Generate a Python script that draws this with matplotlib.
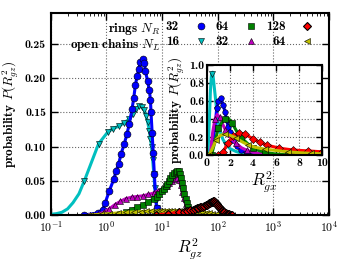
import matplotlib
matplotlib.use('Agg')
import numpy as np
import matplotlib.pyplot as plt
from matplotlib.ticker import FuncFormatter

# main panel: P(R_gz^2) vs R_gz^2
ring32_x = [0.40, 0.69, 0.85, 0.95, 1.12, 1.35, 1.48, 1.66, 1.82, 2.09, 2.34, 2.57, 2.88, 3.09, 3.31,
            3.55, 3.80, 4.07, 4.47, 4.79, 5.01, 5.50, 5.89, 6.17, 6.31, 6.61, 6.92, 7.24, 7.59, 7.94, 8.51]
ring32_y = [0.0, 0.003, 0.008, 0.018, 0.035, 0.052, 0.064, 0.075, 0.089, 0.104, 0.119, 0.133, 0.155, 0.171, 0.190,
            0.203, 0.213, 0.224, 0.228, 0.222, 0.210, 0.195, 0.182, 0.168, 0.150, 0.120, 0.090, 0.060, 0.030, 0.010, 0.0]

chain16_x = [0.08, 0.10, 0.126, 0.158, 0.20, 0.25, 0.32, 0.40, 0.72, 1.05, 1.29, 1.70, 2.09, 2.57, 2.95, 3.39,
             3.89, 4.37, 4.79, 5.13, 5.50, 5.89, 6.17, 6.46, 6.76, 7.08, 7.41, 7.76, 8.13, 8.71, 10.0]
chain16_y = [0.0, 0.001, 0.002, 0.004, 0.009, 0.018, 0.031, 0.050, 0.104, 0.121, 0.126, 0.130, 0.135, 0.140, 0.148, 0.155,
             0.159, 0.158, 0.153, 0.145, 0.136, 0.123, 0.111, 0.099, 0.080, 0.060, 0.040, 0.020, 0.010, 0.003, 0.0]

ring64_x = [1.78, 2.24, 2.82, 3.55, 4.47, 5.62, 7.08, 7.94, 8.9, 10.0, 10.7, 11.5, 12.3, 13.2, 14.1, 15.1, 16.2,
            17.4, 18.6, 20.0, 20.9, 21.9, 22.9, 24.0, 25.1, 26.3, 27.5, 28.8, 30.9, 33.1, 35.5, 39.8]
ring64_y = [0.001, 0.004, 0.008, 0.011, 0.015, 0.019, 0.024, 0.027, 0.031, 0.035, 0.038, 0.042, 0.046, 0.050, 0.054, 0.058, 0.061,
            0.063, 0.065, 0.064, 0.060, 0.054, 0.047, 0.039, 0.031, 0.024, 0.017, 0.012, 0.007, 0.003, 0.001, 0.0]

chain32_x = [0.50, 0.71, 0.89, 1.12, 1.41, 1.78, 2.24, 2.82, 3.55, 4.47, 5.62, 7.08, 8.3, 9.5, 10.7, 12.0, 13.5,
             15.1, 17.0, 18.6, 20.0, 21.4, 22.9, 24.5, 26.3, 28.2, 30.9, 34.7, 39.8]
chain32_y = [0.0, 0.001, 0.004, 0.009, 0.015, 0.020, 0.024, 0.026, 0.027, 0.028, 0.030, 0.032, 0.035, 0.037, 0.040, 0.043, 0.047,
             0.050, 0.053, 0.054, 0.051, 0.044, 0.034, 0.025, 0.016, 0.009, 0.004, 0.001, 0.0]

ring128_x = [7.9, 12.6, 20.0, 25.1, 28.2, 31.6, 35.5, 38.5, 41.7, 44.7, 47.9, 50.7, 53.7, 57.0, 60.3, 63.1, 66.1,
             69.2, 72.4, 75.0, 77.6, 80.4, 83.2, 86.1, 89.1, 92.3, 95.5, 98.7, 102, 106, 110, 113, 117, 121, 126,
             132, 138, 144, 151, 158, 166, 174, 182]
ring128_y = [0.0, 0.002, 0.004, 0.005, 0.006, 0.007, 0.008, 0.009, 0.010, 0.0105, 0.011, 0.0115, 0.012, 0.013, 0.014, 0.015, 0.016,
             0.017, 0.018, 0.0185, 0.019, 0.0195, 0.020, 0.0198, 0.019, 0.0175, 0.016, 0.0145, 0.013, 0.0115, 0.010, 0.0088, 0.0075, 0.0062, 0.005,
             0.004, 0.003, 0.0022, 0.0015, 0.001, 0.0005, 0.0002, 0.0]

chain64_x = [0.5, 0.79, 1.12, 1.58, 2.24, 3.16, 4.2, 5.2, 6.3, 7.6, 8.9, 10.0, 11.5, 13.2, 15.1, 17.4, 20.0, 22.9,
             26.3, 30.2, 34.7, 39.8, 45.7, 52.5, 60.3, 69.2, 79.4, 91.2, 112, 141]
chain64_y = [0.0, 0.001, 0.002, 0.003, 0.004, 0.0045, 0.005, 0.0055, 0.006, 0.006, 0.0065, 0.0065, 0.0065, 0.0065, 0.0065, 0.0065,
             0.006, 0.006, 0.0055, 0.0055, 0.005, 0.005, 0.0045, 0.004, 0.0035, 0.003, 0.002, 0.001, 0.0003, 0.0]

# inset: P(R_gx^2) vs R_gx^2
in_chain16_x = [0.0, 0.1, 0.2, 0.3, 0.4, 0.5, 0.6, 0.7, 0.85, 1.0, 1.2, 1.4, 1.7, 2.0, 2.5, 3.0, 3.5, 4.0, 5.0, 6.0]
in_chain16_y = [0.0, 0.05, 0.35, 0.7, 0.9, 0.92, 0.8, 0.68, 0.5, 0.35, 0.24, 0.17, 0.11, 0.07, 0.04, 0.02, 0.01, 0.005, 0.001, 0.0]
in_ring32_x = [0.3, 0.5, 0.7, 0.85, 1.0, 1.2, 1.4, 1.57, 1.71, 1.85, 2.0, 2.3, 2.6, 3.0, 3.5, 4.0, 5.0]
in_ring32_y = [0.0, 0.15, 0.30, 0.52, 0.60, 0.63, 0.56, 0.48, 0.39, 0.31, 0.26, 0.17, 0.10, 0.05, 0.02, 0.005, 0.0]
in_chain32_x = [0.3, 0.5, 0.7, 0.9, 1.1, 1.3, 1.6, 2.0, 2.5, 3.0, 3.5, 4.0, 5.0, 6.0, 7.0]
in_chain32_y = [0.0, 0.25, 0.40, 0.45, 0.42, 0.36, 0.28, 0.20, 0.13, 0.08, 0.05, 0.03, 0.01, 0.003, 0.0]
in_ring64_x = [0.4, 0.7, 1.0, 1.3, 1.6, 1.85, 2.2, 2.6, 3.0, 3.5, 4.0, 4.5, 5.0, 6.0, 7.0]
in_ring64_y = [0.0, 0.15, 0.30, 0.36, 0.40, 0.41, 0.35, 0.26, 0.19, 0.13, 0.08, 0.05, 0.03, 0.01, 0.0]
in_chain64_x = [0.2, 0.5, 0.8, 1.2, 1.6, 2.0, 2.5, 3.0, 3.6, 4.2, 5.0, 6.0, 7.0, 8.0, 9.0, 10.0]
in_chain64_y = [0.0, 0.08, 0.17, 0.22, 0.23, 0.22, 0.19, 0.15, 0.11, 0.085, 0.065, 0.05, 0.035, 0.025, 0.018, 0.013]
in_ring128_x = [1.0, 1.4, 1.8, 2.3, 2.8, 3.3, 4.0, 4.6, 5.2, 6.3, 7.5, 8.8, 10.0]
in_ring128_y = [0.0, 0.03, 0.13, 0.21, 0.245, 0.23, 0.18, 0.14, 0.11, 0.075, 0.055, 0.045, 0.035]

ring_sizes = ['32', '64', '128']
chain_sizes = ['16', '32', '64']

# computer-modern bold shipped with matplotlib
plt.rcParams['font.family'] = ['cmb10', 'DejaVu Serif']
plt.rcParams['mathtext.fontset'] = 'cm'
plt.rcParams['axes.unicode_minus'] = False

fig = plt.figure(figsize=(3.46, 2.60), dpi=100)
ax = fig.add_axes([0.147, 0.173, 0.804, 0.777])

ms = 5.0
lw = 2.2
style = dict(mec='k', mew=0.4, ms=ms, lw=lw)
h_c16, = ax.plot(chain16_x, chain16_y, '-v', color='c', markevery=(7, 1), **style)
h_r32, = ax.plot(ring32_x, ring32_y, '-o', color='b', **style)
h_c32, = ax.plot(chain32_x, chain32_y, '-^', color='m', **style)
h_r64, = ax.plot(ring64_x, ring64_y, '-s', color='g', **style)
h_c64, = ax.plot(chain64_x, chain64_y, '-<', color='y', **style)
h_r128, = ax.plot(ring128_x, ring128_y, '-D', color='r', mec='k', mew=0.8, ms=3.6, lw=lw)

ax.set_xscale('log')
ax.set_xlim(0.1, 1e4)
ax.set_ylim(0, 0.295)
ax.xaxis.set_major_formatter(FuncFormatter(lambda v, p: r'$\mathbf{10^{%d}}$' % round(np.log10(v))))
ax.set_yticks([0.0, 0.05, 0.10, 0.15, 0.20, 0.25])
ax.set_yticklabels(['0.00', '0.05', '0.10', '0.15', '0.20', '0.25'])
ax.grid(True, which='major', linestyle=':', color='k', lw=0.8, alpha=0.6)
ax.tick_params(which='both', direction='in', top=True, right=True, labelsize=8.5)
ax.tick_params(which='major', length=5, width=1)
ax.tick_params(which='minor', length=2.5, width=0.6)
for s in ax.spines.values():
    s.set_linewidth(1.5)
ax.set_xlabel(r'$R_{gz}^2$', fontsize=12, labelpad=1)
ax.set_ylabel(r'probability $P(R_{gz}^2)$', fontsize=9.5, labelpad=3)

# legend: two rows, label before marker
leg = ax.legend([h_r32, h_c16, h_r64, h_c32, h_r128, h_c64],
                [ring_sizes[0], chain_sizes[0], ring_sizes[1], chain_sizes[1], ring_sizes[2], chain_sizes[2]],
                ncol=3, markerfirst=False, frameon=False, loc='upper right',
                bbox_to_anchor=(0.955, 0.96), borderaxespad=0, borderpad=0,
                handlelength=1.4, handletextpad=0.95, columnspacing=0.45, labelspacing=0.2,
                prop={'size': 9.5})
for line in leg.get_lines():
    line.set_linestyle('none')
ax.text(0.395, 0.92, r'rings $N_R$', transform=ax.transAxes, ha='right', va='center', fontsize=9.5)
ax.text(0.395, 0.84, r'open chains $N_L$', transform=ax.transAxes, ha='right', va='center', fontsize=9.5)

# inset
ins = fig.add_axes([0.598, 0.404, 0.333, 0.346])
ins.plot(in_chain16_x, in_chain16_y, '-v', color='c', markevery=4, mec='k', mew=0.4, ms=4, lw=lw)
ins.plot(in_ring32_x, in_ring32_y, '-o', color='b', markevery=1, mec='k', mew=0.4, ms=4, lw=lw)
ins.plot(in_chain32_x, in_chain32_y, '-^', color='m', markevery=2, mec='k', mew=0.4, ms=4, lw=lw)
ins.plot(in_ring64_x, in_ring64_y, '-s', color='g', markevery=2, mec='k', mew=0.4, ms=4, lw=lw)
ins.plot(in_ring128_x, in_ring128_y, '-D', color='r', markevery=1, mec='k', mew=0.4, ms=3.6, lw=lw)
ins.plot(in_chain64_x, in_chain64_y, '-<', color='y', markevery=2, mec='k', mew=0.4, ms=4, lw=lw)
ins.set_xlim(0, 10)
ins.set_ylim(0, 1.0)
ins.set_xticks([0, 2, 4, 6, 8, 10])
ins.set_yticks([0.0, 0.2, 0.4, 0.6, 0.8, 1.0])
ins.grid(True, linestyle=':', color='k', lw=0.8, alpha=0.6)
ins.tick_params(direction='in', top=True, right=True, labelsize=8.5, length=4, width=1, pad=2)
for s in ins.spines.values():
    s.set_linewidth(1.5)
ins.set_xlabel(r'$R_{gx}^2$', fontsize=12, labelpad=1)
ins.set_ylabel(r'probability $P(R_{gz}^2)$', fontsize=9.5, labelpad=1)

fig.savefig('out.png', dpi=100)
